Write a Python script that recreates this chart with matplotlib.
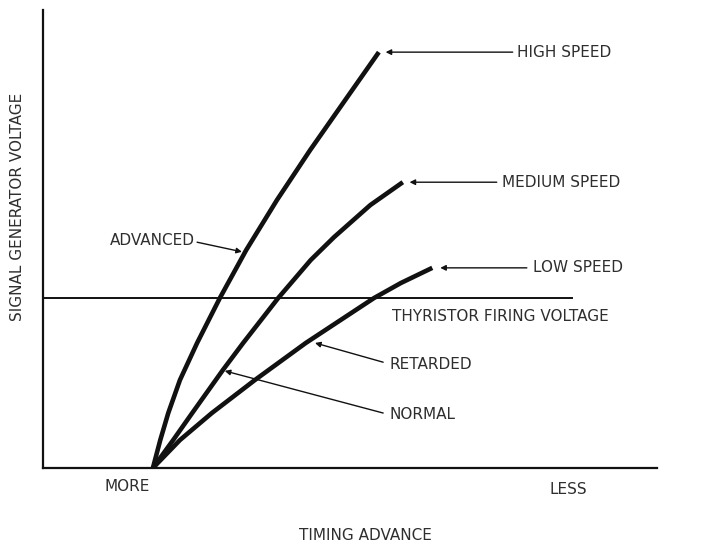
"""Ignition timing curves: signal generator voltage vs timing advance for three engine speeds."""
import matplotlib
matplotlib.use("Agg")
import matplotlib.pyplot as plt

# curve points, arbitrary units (x: timing advance, y: generator voltage)
high_x = [17.9, 19.1, 20.4, 22.3, 25.1, 28.8, 33.1, 38.1, 43.5, 49.2, 54.7]
high_y = [0.0, 6.1, 12.0, 19.2, 27.3, 37.1, 47.6, 58.5, 69.4, 80.3, 90.8]

medium_x = [17.9, 21.2, 24.3, 29.3, 32.6, 38.3, 43.6, 47.4, 53.3, 58.6]
medium_y = [0.0, 6.1, 12.0, 21.4, 27.3, 37.1, 45.4, 50.4, 57.4, 62.4]

low_x = [17.9, 22.3, 27.5, 34.5, 42.8, 53.9, 58.3, 63.4]
low_y = [0.0, 6.1, 12.0, 19.2, 27.3, 37.1, 40.4, 43.7]

firing_voltage = 37.1
firing_x_end = 86.2

TEXT = "#2e2e2e"
INK = "#111111"
FS = 11

fig = plt.figure(figsize=(7.09, 5.44), dpi=100)
ax = fig.add_axes([43 / 709, 76 / 544, 614 / 709, 458 / 544])
ax.set_xlim(0, 100)
ax.set_ylim(0, 100)
ax.set_xticks([])
ax.set_yticks([])
for side in ("top", "right"):
    ax.spines[side].set_visible(False)
for side in ("left", "bottom"):
    ax.spines[side].set_linewidth(1.6)
    ax.spines[side].set_color(INK)

for xs, ys in [(high_x, high_y), (medium_x, medium_y), (low_x, low_y)]:
    ax.plot(xs, ys, color=INK, lw=3.3, solid_capstyle="butt", solid_joinstyle="round")

ax.plot([0, firing_x_end], [firing_voltage, firing_voltage], color=INK, lw=1.4)

arrow = dict(arrowstyle="-|>", color=INK, lw=1.0, mutation_scale=8, shrinkA=0, shrinkB=0)

# speed labels at the ends of the curves
ax.annotate("", xy=(high_x[-1] + 1.1, high_y[-1]), xytext=(76.5, high_y[-1]), arrowprops=arrow)
ax.text(77.2, high_y[-1], "HIGH SPEED", color=TEXT, fontsize=FS, va="center", ha="left")
ax.annotate("", xy=(medium_x[-1] + 1.1, medium_y[-1]), xytext=(73.9, medium_y[-1]), arrowprops=arrow)
ax.text(74.8, medium_y[-1], "MEDIUM SPEED", color=TEXT, fontsize=FS, va="center", ha="left")
ax.annotate("", xy=(low_x[-1] + 1.3, low_y[-1]), xytext=(78.8, low_y[-1]), arrowprops=arrow)
ax.text(79.8, low_y[-1], "LOW SPEED", color=TEXT, fontsize=FS, va="center", ha="left")

ax.text(56.8, 33.0, "THYRISTOR FIRING VOLTAGE", color=TEXT, fontsize=FS, va="center", ha="left")

ax.annotate("", xy=(44.3, 27.3), xytext=(55.4, 23.1), arrowprops=arrow)
ax.text(56.5, 22.5, "RETARDED", color=TEXT, fontsize=FS, va="center", ha="left")
ax.annotate("", xy=(29.6, 21.2), xytext=(55.4, 12.0), arrowprops=arrow)
ax.text(56.5, 11.6, "NORMAL", color=TEXT, fontsize=FS, va="center", ha="left")
ax.annotate("", xy=(32.4, 47.2), xytext=(25.1, 49.3), arrowprops=arrow)
ax.text(24.8, 49.6, "ADVANCED", color=TEXT, fontsize=FS, va="center", ha="right")

ax.text(13.7, -4.1, "MORE", color=TEXT, fontsize=FS, va="center", ha="center")
ax.text(85.5, -4.8, "LESS", color=TEXT, fontsize=FS, va="center", ha="center")

fig.text(365 / 709, 1 - 535 / 544, "TIMING ADVANCE", color=TEXT, fontsize=FS, va="center", ha="center")
fig.text(18 / 709, 1 - 207 / 544, "SIGNAL GENERATOR VOLTAGE", color=TEXT, fontsize=FS,
         va="center", ha="center", rotation=90)

fig.savefig("out.png", dpi=100)
